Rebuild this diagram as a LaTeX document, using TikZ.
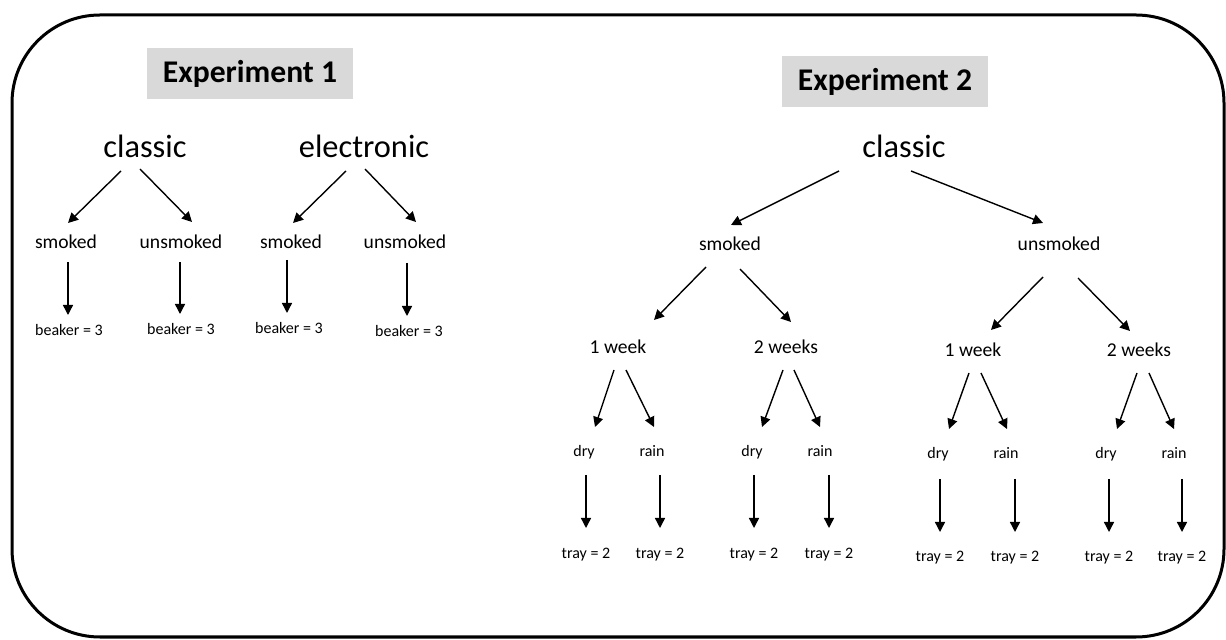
\documentclass[tikz,border=0pt]{standalone}
\usepackage{fontspec}
\setmainfont{Carlito}
\usetikzlibrary{calc}
\usetikzlibrary{arrows.meta}

\definecolor{boxgrey}{HTML}{D9D9D9}
\tikzset{
  big/.style={font=\fontsize{16.2}{19}\selectfont, inner sep=0pt},
  mid/.style={font=\fontsize{9.8}{12}\selectfont, inner sep=0pt,
    text height=6.5pt, text depth=2pt},
  small/.style={font=\fontsize{8}{10}\selectfont, inner sep=0pt,
    text height=5.5pt, text depth=1.7pt},
  titlebox/.style={fill=boxgrey, font=\bfseries\fontsize{15.8}{18}\selectfont,
    minimum width=103pt, minimum height=25.5pt, inner sep=0pt},
  arr/.style={-{Triangle[length=5pt,width=5pt]}, line width=0.7pt},
}

\begin{document}
\begin{tikzpicture}[x=0.5pt, y=-0.5pt]
\useasboundingbox (0,0) rectangle (1226,640);
\draw[line width=1.5pt, rounded corners=44pt] (12,15) rectangle (1224,637);

% Experiment 1
\node[titlebox] (e1) at (250,74) {Experiment 1};

\node[big] (c1) at (145,146) {classic};
\node[big] (el) at (364,146) {electronic};

\node[mid] (s1) at (66,244) {smoked};
\node[mid] (u1) at (181,244) {unsmoked};
\node[mid] (s2) at (291,244) {smoked};
\node[mid] (u2) at (405,244) {unsmoked};

\node[small] (b1) at (69,332) {beaker = 3};
\node[small] (b2) at (181,331) {beaker = 3};
\node[small] (b3) at (289,330) {beaker = 3};
\node[small] (b4) at (409,333) {beaker = 3};

\draw[arr] ($(c1)+(-24,25)$) -- ($(s1)+(2,-21)$);
\draw[arr] ($(c1)+(-5,23)$) -- ($(u1)+(11,-22)$);
\draw[arr] ($(el)+(-18,25)$) -- ($(s2)+(2,-21)$);
\draw[arr] ($(el)+(1,23)$) -- ($(u2)+(11,-22)$);

\draw[arr] ($(s1 -| b1)+(-1,18)$) -- ($(b1)+(-1,-17)$);
\draw[arr] ($(u1 -| b2)+(-1,18)$) -- ($(b2)+(-1,-17)$);
\draw[arr] ($(s2 -| b3)+(-2,16)$) -- ($(b3)+(-2,-17)$);
\draw[arr] ($(u2 -| b4)+(-2,19)$) -- ($(b4)+(-2,-17)$);

% Experiment 2
\node[titlebox] (e2) at (885,82) {Experiment 2};

\node[big] (c2) at (904,146) {classic};

\node[mid] (s3) at (730,246) {smoked};
\node[mid] (u3) at (1059,246) {unsmoked};

\node[mid] (w1) at (618,349) {1 week};
\node[mid] (w2) at (786,349) {2 weeks};
\node[mid] (w3) at (973,352) {1 week};
\node[mid] (w4) at (1139,352) {2 weeks};

\node[small] (d1) at (584,453) {dry};
\node[small] (r1) at (652,453) {rain};
\node[small] (d2) at (752,453) {dry};
\node[small] (r2) at (820,453) {rain};
\node[small] (d3) at (938,455) {dry};
\node[small] (r3) at (1006,455) {rain};
\node[small] (d4) at (1106,455) {dry};
\node[small] (r4) at (1174,455) {rain};

\node[small] (t1) at (586,555) {tray = 2};
\node[small] (t2) at (660,555) {tray = 2};
\node[small] (t3) at (754,555) {tray = 2};
\node[small] (t4) at (829,555) {tray = 2};
\node[small] (t5) at (940,558) {tray = 2};
\node[small] (t6) at (1015,558) {tray = 2};
\node[small] (t7) at (1109,558) {tray = 2};
\node[small] (t8) at (1182,558) {tray = 2};

\draw[arr] ($(c2)+(-65,25)$) -- ($(s3)+(1,-21)$);
\draw[arr] ($(c2)+(7,25)$) -- ($(u3)+(-16,-23)$);

\draw[arr] ($(s3)+(-24,21)$) -- ($(w1)+(36,-29)$);
\draw[arr] ($(s3)+(10,23)$) -- ($(w2)+(5,-27)$);
\draw[arr] ($(u3)+(-16,31)$) -- ($(w3)+(18,-22)$);
\draw[arr] ($(u3)+(19,32)$) -- ($(w4)+(-9,-21)$);

\draw[arr] ($(w1)+(-4,21)$) -- ($(d1)+(11,-26)$);
\draw[arr] ($(w1)+(8,21)$) -- ($(r1)+(2,-26)$);
\draw[arr] ($(w2)+(-3,21)$) -- ($(d2)+(10,-26)$);
\draw[arr] ($(w2)+(8,21)$) -- ($(r2)+(0,-26)$);
\draw[arr] ($(w3)+(-4,21)$) -- ($(d3)+(11,-26)$);
\draw[arr] ($(w3)+(8,21)$) -- ($(r3)+(1,-26)$);
\draw[arr] ($(w4)+(-2,21)$) -- ($(d4)+(11,-26)$);
\draw[arr] ($(w4)+(10,21)$) -- ($(r4)+(0,-26)$);

\draw[arr] ($(d1 -| t1)+(0,22)$) -- ($(t1)+(0,-27)$);
\draw[arr] ($(r1 -| t2)+(0,22)$) -- ($(t2)+(0,-27)$);
\draw[arr] ($(d2 -| t3)+(0,22)$) -- ($(t3)+(0,-27)$);
\draw[arr] ($(r2 -| t4)+(0,22)$) -- ($(t4)+(0,-27)$);
\draw[arr] ($(d3 -| t5)+(0,24)$) -- ($(t5)+(0,-26)$);
\draw[arr] ($(r3 -| t6)+(0,24)$) -- ($(t6)+(0,-26)$);
\draw[arr] ($(d4 -| t7)+(0,24)$) -- ($(t7)+(0,-26)$);
\draw[arr] ($(r4 -| t8)+(0,24)$) -- ($(t8)+(0,-26)$);

\end{tikzpicture}
\end{document}
